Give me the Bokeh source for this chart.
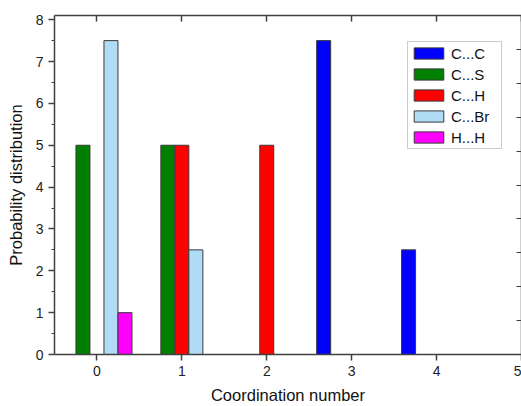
from bokeh.plotting import figure
from bokeh.models import (ColumnDataSource, Range1d, LinearAxis, FixedTicker,
                          Legend, LegendItem, CustomLabelingPolicy)
from bokeh.transform import dodge
from bokeh.embed import file_html
from bokeh.resources import INLINE

# ---- data ----
series_names = ["C...C", "C...S", "C...H", "C...Br", "H...H"]
cc_x = [3, 4]
cc_y = [7.5, 2.5]
cs_x = [0, 1]
cs_y = [5, 5]
ch_x = [1, 2]
ch_y = [5, 5]
cbr_x = [0, 1]
cbr_y = [7.5, 2.5]
hh_x = [0]
hh_y = [1]
x_ticks = [0, 1, 2, 3, 4, 5]
y_ticks = [0, 1, 2, 3, 4, 5, 6, 7, 8]

colors = ["#0000FF", "#007F00", "#FF0000", "#B0DCF5", "#FF00FF"]
offsets = [-0.33, -0.165, 0.0, 0.165, 0.33]
bar_w = 0.165

FONT = "Liberation Sans"
AX = "#404040"

p = figure(width=521, height=406, output_backend="svg", toolbar_location=None,
           x_range=Range1d(-0.5, 5), y_range=Range1d(0, 8.1),
           min_border_left=54, min_border_right=0, min_border_top=15,
           min_border_bottom=10)
p.outline_line_color = None
p.xgrid.visible = False
p.ygrid.visible = False
p.background_fill_color = "white"
p.border_fill_color = "white"

data = [(cc_x, cc_y), (cs_x, cs_y), (ch_x, ch_y), (cbr_x, cbr_y), (hh_x, hh_y)]
renderers = []
for (xs, ys), c, off in zip(data, colors, offsets):
    src = ColumnDataSource(dict(x=xs, top=ys))
    r = p.vbar(x=dodge("x", off), top="top", bottom=0, width=bar_w, source=src,
               fill_color=c, line_color="#3a3a3a", line_width=1)
    renderers.append(r)

# bottom axis
xa = p.xaxis[0]
xa.ticker = FixedTicker(ticks=x_ticks)
xa.major_tick_out = 6
xa.major_tick_in = 0
xa.minor_tick_out = 0
xa.minor_tick_in = 0
xa.axis_label = "Coordination number"
# left axis
ya = p.yaxis[0]
ya.ticker = FixedTicker(ticks=y_ticks, minor_ticks=[v + 0.5 for v in y_ticks[:-1]])
ya.major_tick_out = 6
ya.major_tick_in = 0
ya.minor_tick_out = 3
ya.minor_tick_in = 0
ya.axis_label = "Probability distribution"

for a in (xa, ya):
    a.axis_line_color = AX
    a.axis_line_width = 1.5
    a.major_tick_line_color = AX
    a.major_tick_line_width = 1.5
    a.minor_tick_line_color = AX
    a.minor_tick_line_width = 1.2
    a.major_label_text_font = FONT
    a.major_label_text_font_size = "14px"
    a.major_label_text_color = "#222222"
    a.axis_label_text_font = FONT
    a.axis_label_text_font_size = "16.5px"
    a.axis_label_text_font_style = "normal"
    a.axis_label_text_color = "#111111"
xa.major_label_standoff = 5
xa.axis_label_standoff = 7
ya.major_label_standoff = 5
ya.axis_label_standoff = 8

no_labels = CustomLabelingPolicy(code="""
const n = indices.size
for (let i = 0; i < n; i++) { indices.unset(i) }
return indices
""")

# top axis (ticks inward, no labels)
top = LinearAxis(ticker=FixedTicker(ticks=x_ticks), major_tick_in=6, major_tick_out=0,
                 minor_tick_in=0, minor_tick_out=0, major_label_policy=no_labels,
                 major_label_text_font_size="0px",
                 major_label_standoff=0, axis_line_color=AX, axis_line_width=1.5,
                 major_tick_line_color=AX, major_tick_line_width=1.5)
p.add_layout(top, "above")

# right axis (ticks inward, no labels)
p.extra_y_ranges = {"r": Range1d(0, 1)}
right = LinearAxis(y_range_name="r",
                   ticker=FixedTicker(ticks=[0.1, 0.2, 0.3, 0.4, 0.5, 0.6, 0.7, 0.8, 0.9]),
                   major_tick_in=5, major_tick_out=0, minor_tick_in=0, minor_tick_out=0,
                   major_label_policy=no_labels, major_label_text_font_size="0px",
                   major_label_standoff=0,
                   axis_line_color=AX, axis_line_width=1.5,
                   major_tick_line_color=AX, major_tick_line_width=1.2)
p.add_layout(right, "right")

legend = Legend(items=[LegendItem(label=n, renderers=[r]) for n, r in zip(series_names, renderers)],
                location=(353, 205), orientation="vertical",
                glyph_width=37, glyph_height=14, label_height=18, label_width=48,
                spacing=3, label_standoff=4, padding=2, margin=0,
                label_text_font=FONT, label_text_font_size="15px",
                label_text_color="#111111",
                border_line_color="#999999", border_line_width=1,
                background_fill_color="white", background_fill_alpha=1)
p.add_layout(legend, "center")

open("out.html", "w").write(file_html(p, INLINE))
